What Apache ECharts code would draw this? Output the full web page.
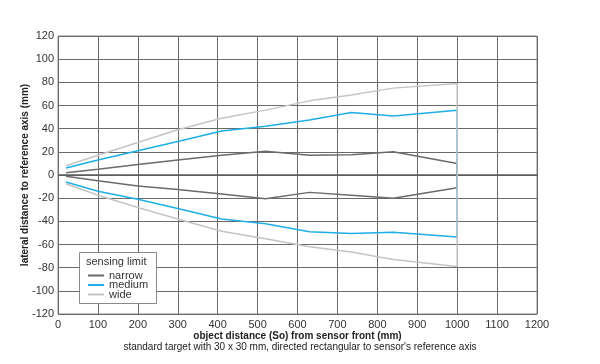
<!DOCTYPE html>
<html>
<head>
<meta charset="utf-8">
<script src="https://cdn.jsdelivr.net/npm/echarts@6/dist/echarts.min.js"></script>
<style>html,body{margin:0;padding:0;background:#fff}#c{width:600px;height:364px}</style>
</head>
<body>
<div id="c"></div>
<script>
// object distance (mm) at which each limit was read
var distances = [20, 100, 200, 300, 410, 520, 630, 735, 840, 1000];
// upper (positive) and lower (negative) lateral limits (mm)
var narrowUpper = [2, 5, 9, 13, 17, 20.5, 17, 17.5, 20, 10];
var narrowLower = [-1, -5, -9.5, -12.5, -16.5, -20.5, -15, -17.5, -20, -11];
var mediumUpper = [6, 13, 21, 29, 38, 42, 47.5, 54, 51, 56];
var mediumLower = [-6, -14, -21, -29, -38, -42, -49, -50.5, -49.5, -53.5];
var wideUpper = [8, 17, 28, 39, 49, 56, 64, 69, 75, 79];
var wideLower = [-7.5, -17.5, -28, -38, -48.5, -55, -62, -66.5, -73, -79];
var xTicks = [0, 100, 200, 300, 400, 500, 600, 700, 800, 900, 1000, 1100, 1200];
var yTicks = [-120, -100, -80, -60, -40, -20, 0, 20, 40, 60, 80, 100, 120];
var seriesNames = ['narrow', 'medium', 'wide'];

function closedPath(upper, lower) {
  var pts = [];
  for (var i = 0; i < distances.length; i++) pts.push([distances[i], upper[i]]);
  for (var j = distances.length - 1; j >= 0; j--) pts.push([distances[j], lower[j]]);
  return pts;
}

var font = '"Liberation Sans", Arial, sans-serif';
var chart = echarts.init(document.getElementById('c'));
var colors = ['#6b6b6b', '#1eaee8', '#c4c4c4'];
var paths = [closedPath(narrowUpper, narrowLower), closedPath(mediumUpper, mediumLower), closedPath(wideUpper, wideLower)];
var order = [2, 0, 1];
var series = order.map(function (k) {
  return {
    name: seriesNames[k], type: 'line', data: paths[k], symbol: 'none',
    lineStyle: { color: colors[k], width: 1.5 }, itemStyle: { color: colors[k] },
    z: 3 + k, animation: false
  };
});
series.push({
  type: 'line', data: [], silent: true,
  markLine: { symbol: 'none', silent: true, label: { show: false },
    lineStyle: { color: '#5a5a5a', width: 1.6, type: 'solid' },
    data: [{ yAxis: 0 }] },
  z: 1
});

chart.setOption({
  animation: false,
  textStyle: { fontFamily: font },
  grid: { left: 58, right: 63, top: 36, bottom: 50, show: true, borderColor: '#8a8a8a', borderWidth: 1 },
  xAxis: {
    type: 'value', min: xTicks[0], max: xTicks[xTicks.length - 1], interval: 100,
    name: 'object distance (So) from sensor front (mm)', nameLocation: 'middle', nameGap: 17, nameMoveOverlap: false,
    nameTextStyle: { fontWeight: 'bold', fontSize: 10, color: '#222', fontFamily: font },
    axisLine: { show: false }, axisTick: { show: false },
    axisLabel: { color: '#333', fontSize: 11, margin: 5, fontFamily: font, formatter: function (v) { return String(v); } },
    splitLine: { show: true, lineStyle: { color: '#6a6a6a', width: 1 } }
  },
  yAxis: {
    type: 'value', min: yTicks[0], max: yTicks[yTicks.length - 1], interval: 20,
    name: 'lateral distance to reference axis (mm)', nameLocation: 'middle', nameGap: 28, nameMoveOverlap: false,
    nameTextStyle: { fontWeight: 'bold', fontSize: 10, color: '#222', fontFamily: font },
    axisLine: { show: false }, axisTick: { show: false },
    axisLabel: { color: '#333', fontSize: 11, margin: 4, fontFamily: font, formatter: function (v) { return String(v); } },
    splitLine: { show: true, lineStyle: { color: '#6a6a6a', width: 1 } }
  },
  legend: {
    data: seriesNames, orient: 'vertical', left: 88, top: 270, padding: 0,
    icon: 'rect', itemWidth: 16, itemHeight: 2, itemGap: -1.5,
    textStyle: { fontSize: 11, color: '#333', lineHeight: 10, fontFamily: font },
    z: 10
  },
  graphic: [
    { type: 'rect', left: 79, top: 252, z: 8, shape: { width: 77, height: 51 },
      style: { fill: '#fff', stroke: '#8a8a8a', lineWidth: 1 } },
    { type: 'text', left: 86, top: 256, z: 9,
      style: { text: 'sensing limit', fill: '#333', font: '11px ' + font } },
    { type: 'text', left: 'center', top: 342, z: 9,
      style: { text: "standard target with 30 x 30 mm, directed rectangular to sensor's reference axis", fill: '#222', font: '10px ' + font } }
  ],
  series: series
});
</script>
</body>
</html>
